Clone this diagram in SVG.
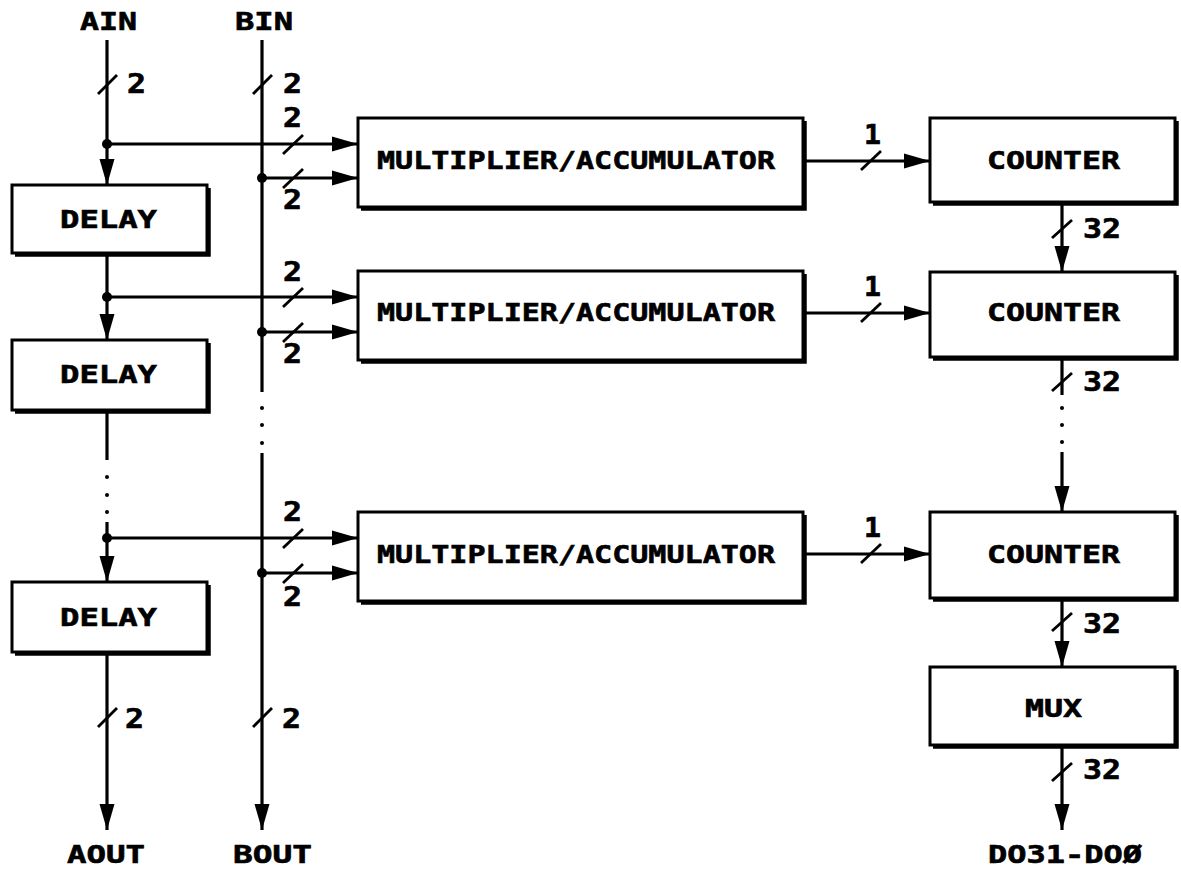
<svg xmlns="http://www.w3.org/2000/svg" width="1181" height="873" viewBox="0 0 1181 873">
<style>
.ln{stroke:#000;stroke-width:3.2;fill:none}
.arr{marker-end:url(#ah)}
.box{fill:#fff;stroke:#000;stroke-width:3}
.sh{fill:none;stroke:#000;stroke-width:3.5}
.sl{stroke:#000;stroke-width:2.8}
.dot{fill:#000}
.jn{fill:#000}
text{font-family:"DejaVu Sans Mono","Liberation Mono",monospace;font-weight:bold;font-size:24px;fill:#000;stroke:#000;stroke-width:0.6}
.n{font-size:26px}
</style>
<defs>
<marker id="ah" markerUnits="userSpaceOnUse" markerWidth="28" markerHeight="20" refX="26" refY="10" orient="auto">
<path d="M0,2.5 L26,10 L0,17.5 z" fill="#000"/>
</marker>
</defs>
<rect width="1181" height="873" fill="#fff"/>

<g id="connectors">
<path class="ln arr" d="M107,40 V185"/>
<path class="ln arr" d="M107,253 V340"/>
<path class="ln" d="M107,410 V460"/>
<path class="ln arr" d="M107,522 V582"/>
<path class="ln arr" d="M107,652 V830"/>
<circle class="dot" cx="107" cy="477" r="2"/>
<circle class="dot" cx="107" cy="495" r="2"/>
<circle class="dot" cx="107" cy="512" r="2"/>
<path class="ln" d="M262,40 V392"/>
<path class="ln arr" d="M262,453 V830"/>
<circle class="dot" cx="262" cy="408" r="2"/>
<circle class="dot" cx="262" cy="425" r="2"/>
<circle class="dot" cx="262" cy="443" r="2"/>
<path class="ln arr" d="M107,144 H358"/>
<path class="ln arr" d="M262,178 H358"/>
<path class="ln arr" d="M107,297 H358"/>
<path class="ln arr" d="M262,332 H358"/>
<path class="ln arr" d="M107,538 H358"/>
<path class="ln arr" d="M262,573 H358"/>
<circle class="jn" cx="107" cy="144" r="5"/>
<circle class="jn" cx="262" cy="178" r="5"/>
<circle class="jn" cx="107" cy="297" r="5"/>
<circle class="jn" cx="262" cy="332" r="5"/>
<circle class="jn" cx="107" cy="538" r="5"/>
<circle class="jn" cx="262" cy="573" r="5"/>
<path class="ln arr" d="M805,161 H930"/>
<path class="ln arr" d="M805,313 H930"/>
<path class="ln arr" d="M805,554 H930"/>
<path class="ln arr" d="M1062,204 V272"/>
<path class="ln" d="M1062,359 V395"/>
<circle class="dot" cx="1062" cy="408" r="2"/>
<circle class="dot" cx="1062" cy="425" r="2"/>
<circle class="dot" cx="1062" cy="442" r="2"/>
<path class="ln arr" d="M1062,452 V512"/>
<path class="ln arr" d="M1062,600 V667"/>
<path class="ln arr" d="M1062,747 V830"/>
<path class="sl" d="M98,94 L117,75"/>
<path class="sl" d="M253,94 L272,75"/>
<path class="sl" d="M283,154 L303,135"/>
<path class="sl" d="M283,188 L303,169"/>
<path class="sl" d="M283,307 L303,288"/>
<path class="sl" d="M283,342 L303,323"/>
<path class="sl" d="M283,548 L303,529"/>
<path class="sl" d="M283,583 L303,564"/>
<path class="sl" d="M861,170 L881,151"/>
<path class="sl" d="M861,322 L881,303"/>
<path class="sl" d="M861,563 L881,544"/>
<path class="sl" d="M1052,238 L1072,220"/>
<path class="sl" d="M1052,391 L1072,373"/>
<path class="sl" d="M1052,631 L1072,613"/>
<path class="sl" d="M1052,781 L1072,763"/>
<path class="sl" d="M98,727 L117,708"/>
<path class="sl" d="M253,727 L272,708"/>
</g>

<g id="labels">
<text x="80" y="30" textLength="57" lengthAdjust="spacingAndGlyphs">AIN</text>
<text x="235" y="30" textLength="58" lengthAdjust="spacingAndGlyphs">BIN</text>
<text class="n" x="127" y="93" textLength="19" lengthAdjust="spacingAndGlyphs">2</text>
<text class="n" x="283" y="93" textLength="19" lengthAdjust="spacingAndGlyphs">2</text>
<text class="n" x="283" y="127" textLength="19" lengthAdjust="spacingAndGlyphs">2</text>
<text class="n" x="283" y="209" textLength="19" lengthAdjust="spacingAndGlyphs">2</text>
<text class="n" x="283" y="281" textLength="19" lengthAdjust="spacingAndGlyphs">2</text>
<text class="n" x="283" y="363" textLength="19" lengthAdjust="spacingAndGlyphs">2</text>
<text class="n" x="283" y="521" textLength="19" lengthAdjust="spacingAndGlyphs">2</text>
<text class="n" x="283" y="606" textLength="19" lengthAdjust="spacingAndGlyphs">2</text>
<text class="n" x="864" y="144" textLength="17" lengthAdjust="spacingAndGlyphs">1</text>
<text class="n" x="864" y="296" textLength="17" lengthAdjust="spacingAndGlyphs">1</text>
<text class="n" x="864" y="537" textLength="17" lengthAdjust="spacingAndGlyphs">1</text>
<text class="n" x="1083" y="238" textLength="38" lengthAdjust="spacingAndGlyphs">32</text>
<text class="n" x="1083" y="391" textLength="38" lengthAdjust="spacingAndGlyphs">32</text>
<text class="n" x="1083" y="633" textLength="38" lengthAdjust="spacingAndGlyphs">32</text>
<text class="n" x="1083" y="779" textLength="38" lengthAdjust="spacingAndGlyphs">32</text>
<text class="n" x="125" y="728" textLength="19" lengthAdjust="spacingAndGlyphs">2</text>
<text class="n" x="282" y="728" textLength="19" lengthAdjust="spacingAndGlyphs">2</text>
<text x="67" y="863" textLength="78" lengthAdjust="spacingAndGlyphs">AOUT</text>
<text x="233" y="863" textLength="79" lengthAdjust="spacingAndGlyphs">BOUT</text>
<text x="988" y="863" textLength="154" lengthAdjust="spacingAndGlyphs">DO31-DOØ</text>
</g>

<g id="delay1">
<rect class="box" x="12" y="185" width="195" height="68"/>
<path class="sh" d="M15,255 H209 V188"/>
<text x="60" y="228" textLength="97" lengthAdjust="spacingAndGlyphs">DELAY</text>
</g>
<g id="delay2">
<rect class="box" x="12" y="340" width="195" height="70"/>
<path class="sh" d="M15,412 H209 V343"/>
<text x="60" y="383" textLength="97" lengthAdjust="spacingAndGlyphs">DELAY</text>
</g>
<g id="delay3">
<rect class="box" x="12" y="582" width="195" height="70"/>
<path class="sh" d="M15,654 H209 V585"/>
<text x="60" y="626" textLength="97" lengthAdjust="spacingAndGlyphs">DELAY</text>
</g>

<g id="mult1">
<rect class="box" x="358" y="118" width="445" height="89"/>
<path class="sh" d="M361,209 H805 V121"/>
<text x="377" y="169" textLength="398" lengthAdjust="spacingAndGlyphs">MULTIPLIER/ACCUMULATOR</text>
</g>
<g id="mult2">
<rect class="box" x="358" y="271" width="445" height="89"/>
<path class="sh" d="M361,362 H805 V274"/>
<text x="377" y="321" textLength="398" lengthAdjust="spacingAndGlyphs">MULTIPLIER/ACCUMULATOR</text>
</g>
<g id="mult3">
<rect class="box" x="358" y="512" width="445" height="89"/>
<path class="sh" d="M361,603 H805 V515"/>
<text x="377" y="563" textLength="398" lengthAdjust="spacingAndGlyphs">MULTIPLIER/ACCUMULATOR</text>
</g>

<g id="counter1">
<rect class="box" x="930" y="118" width="245" height="84"/>
<path class="sh" d="M933,204 H1177 V121"/>
<text x="987" y="169" textLength="133" lengthAdjust="spacingAndGlyphs">COUNTER</text>
</g>
<g id="counter2">
<rect class="box" x="930" y="272" width="245" height="85"/>
<path class="sh" d="M933,359 H1177 V275"/>
<text x="987" y="321" textLength="133" lengthAdjust="spacingAndGlyphs">COUNTER</text>
</g>
<g id="counter3">
<rect class="box" x="930" y="512" width="245" height="86"/>
<path class="sh" d="M933,600 H1177 V515"/>
<text x="987" y="563" textLength="133" lengthAdjust="spacingAndGlyphs">COUNTER</text>
</g>
<g id="mux">
<rect class="box" x="930" y="667" width="245" height="78"/>
<path class="sh" d="M933,747 H1177 V670"/>
<text x="1025" y="717" textLength="57" lengthAdjust="spacingAndGlyphs">MUX</text>
</g>
</svg>
